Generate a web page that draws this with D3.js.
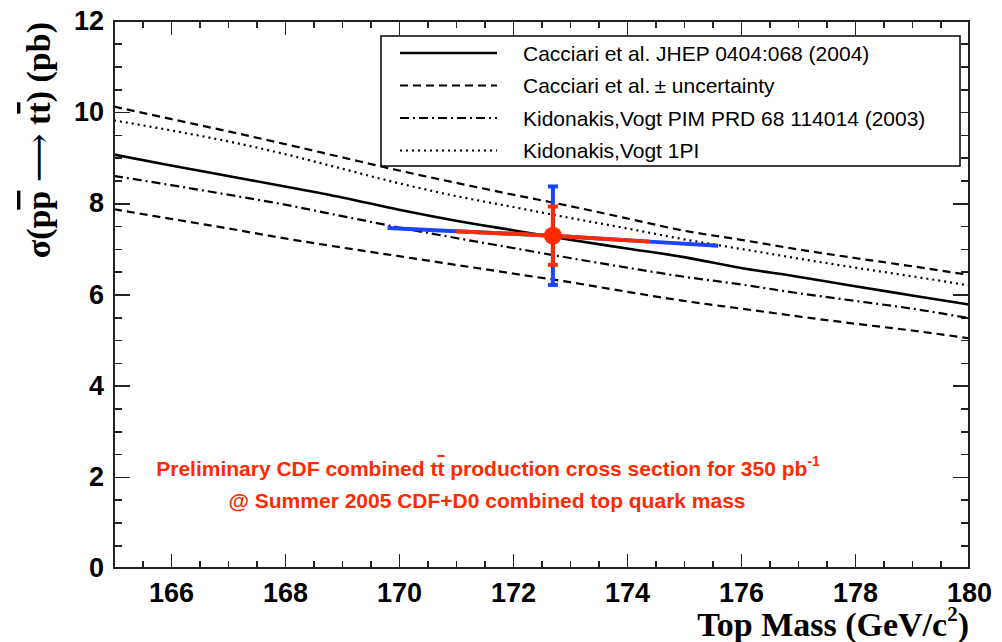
<!DOCTYPE html>
<html lang="en">
<head>
<meta charset="UTF-8">
<title>ttbar cross section vs top mass</title>
<script src="https://d3js.org/d3.v7.min.js"></script>
<style>
    body { margin: 0; background: #ffffff; }

    .axis path { display: none; }
    .axis line { stroke: #222; stroke-width: 1.6; shape-rendering: crispEdges; }
    .axis text {
        font-family: "Liberation Sans", Arial, sans-serif;
        font-weight: bold;
        font-size: 27px;
        fill: #000;
    }

    .legend text {
        font-family: "Liberation Sans", Arial, sans-serif;
        font-size: 21px;
        fill: #000;
    }

    .title {
        font-family: "Liberation Serif", "Times New Roman", serif;
        font-weight: bold;
        font-size: 34px;
        fill: #000;
    }

    .note {
        font-family: "Liberation Sans", Arial, sans-serif;
        font-weight: bold;
        font-size: 21px;
        fill: #ff2a00;
    }
</style>
</head>
<body>
<div id="chart"></div>

<script>

var mass        = [165, 166, 167, 168, 169, 170, 171, 172, 173, 174, 175, 176, 177, 178, 179, 180];
var cacciari    = [9.07, 8.83, 8.60, 8.37, 8.13, 7.86, 7.62, 7.41, 7.20, 7.01, 6.82, 6.58, 6.39, 6.18, 5.98, 5.78];
var cacciariUp  = [10.12, 9.85, 9.58, 9.30, 9.01, 8.72, 8.45, 8.19, 7.94, 7.67, 7.40, 7.20, 6.99, 6.80, 6.62, 6.43];
var cacciariLow = [7.87, 7.66, 7.45, 7.23, 7.03, 6.84, 6.65, 6.46, 6.27, 6.06, 5.86, 5.69, 5.52, 5.36, 5.21, 5.04];
var kidonakisPIM = [8.60, 8.40, 8.19, 7.97, 7.72, 7.47, 7.24, 7.02, 6.80, 6.59, 6.39, 6.22, 6.03, 5.86, 5.69, 5.48];
var kidonakis1PI = [9.82, 9.60, 9.36, 9.08, 8.76, 8.44, 8.16, 7.92, 7.68, 7.45, 7.21, 7.00, 6.79, 6.59, 6.40, 6.20];

// CDF combined measurement
var measMass = 172.7;
var measXsec = 7.29;
var xsecStat = 0.64;   // red (inner) vertical error
var xsecTot = 1.08;    // blue (outer) vertical error
// measured cross section follows the assumed mass along the horizontal bar
var bandMass = [169.8, 171.0, 172.7, 174.4, 175.6];
var bandXsec = [7.46, 7.39, 7.29, 7.16, 7.07];

var xTicks = [166, 168, 170, 172, 174, 176, 178, 180];
var yTicks = [0, 2, 4, 6, 8, 10, 12];

var legendLabels = [
    "Cacciari et al. JHEP 0404:068 (2004)",
    "Cacciari et al.\u2009\u00b1 uncertainty",
    "Kidonakis,Vogt PIM PRD 68 114014 (2003)",
    "Kidonakis,Vogt 1PI"
];

var w = 1002;
var h = 642;
var plotL = 114, plotR = 969, plotT = 21, plotB = 568;

var red = "#ff2a00";
var blue = "#1a44ff";

var svg = d3.select("#chart")
            .append("svg")
            .attr("width", w)
            .attr("height", h)
            .style("background-color", "#ffffff");

var xScale = d3.scaleLinear().domain([165, 180]).range([plotL, plotR]);
var yScale = d3.scaleLinear().domain([0, 12]).range([plotB, plotT]);

svg.append("clipPath").attr("id", "plotclip")
    .append("rect")
    .attr("x", plotL).attr("y", plotT)
    .attr("width", plotR - plotL).attr("height", plotB - plotT);

/*
* Axes: ticks on all four sides, pointing inward
* */
var minorX = d3.range(165, 180.01, 0.5).filter(function(v){ return v % 2 !== 0; });
var minorY = d3.range(0, 12.01, 0.5).filter(function(v){ return v % 2 !== 0; });
var noLabel = function(){ return ""; };

svg.append("g").attr("class", "axis")
    .attr("transform", "translate(0," + plotB + ")")
    .call(d3.axisBottom(xScale).tickValues(xTicks).tickSize(-14).tickPadding(15).tickFormat(d3.format("d")));
svg.append("g").attr("class", "axis")
    .attr("transform", "translate(0," + plotB + ")")
    .call(d3.axisBottom(xScale).tickValues(minorX).tickSize(-7).tickFormat(noLabel));
svg.append("g").attr("class", "axis")
    .attr("transform", "translate(0," + plotT + ")")
    .call(d3.axisTop(xScale).tickValues(xTicks).tickSize(-14).tickFormat(noLabel));
svg.append("g").attr("class", "axis")
    .attr("transform", "translate(0," + plotT + ")")
    .call(d3.axisTop(xScale).tickValues(minorX).tickSize(-7).tickFormat(noLabel));

svg.append("g").attr("class", "axis")
    .attr("transform", "translate(" + plotL + ",0)")
    .call(d3.axisLeft(yScale).tickValues(yTicks).tickSize(-16).tickPadding(10).tickFormat(d3.format("d")));
svg.append("g").attr("class", "axis")
    .attr("transform", "translate(" + plotL + ",0)")
    .call(d3.axisLeft(yScale).tickValues(minorY).tickSize(-8).tickFormat(noLabel));
svg.append("g").attr("class", "axis")
    .attr("transform", "translate(" + plotR + ",0)")
    .call(d3.axisRight(yScale).tickValues(yTicks).tickSize(-16).tickFormat(noLabel));
svg.append("g").attr("class", "axis")
    .attr("transform", "translate(" + plotR + ",0)")
    .call(d3.axisRight(yScale).tickValues(minorY).tickSize(-8).tickFormat(noLabel));

/*
* Theory curves
* */
var curves = [
    { values: cacciari,     dash: null,         width: 2.6 },
    { values: cacciariUp,   dash: "8,5",        width: 2.2 },
    { values: kidonakisPIM, dash: "9,4,2,4",    width: 2.2 },
    { values: kidonakis1PI, dash: "2,4",        width: 2.2 },
    { values: cacciariLow,  dash: "8,5",        width: 2.2 }
];
var curveLine = d3.line()
        .x(function(d){ return xScale(d[0]); })
        .y(function(d){ return yScale(d[1]); })
        .curve(d3.curveMonotoneX);

var curveLayer = svg.append("g").attr("clip-path", "url(#plotclip)");
curves.forEach(function(c){
    curveLayer.append("path")
        .attr("d", curveLine(d3.zip(mass, c.values)))
        .attr("fill", "none")
        .attr("stroke", "#000")
        .attr("stroke-width", c.width)
        .attr("stroke-dasharray", c.dash);
});

/*
* Measurement with error bars
* */
var band = d3.zip(bandMass, bandXsec);
var bandLine = d3.line()
        .x(function(d){ return xScale(d[0]); })
        .y(function(d){ return yScale(d[1]); });

var meas = svg.append("g");

meas.append("path")
    .attr("d", bandLine(band))
    .attr("fill", "none").attr("stroke", blue).attr("stroke-width", 4);
meas.append("path")
    .attr("d", bandLine(band.slice(1, 4)))
    .attr("fill", "none").attr("stroke", red).attr("stroke-width", 4);

function vErr(err, color) {
    var cx = xScale(measMass);
    var y1 = yScale(measXsec + err), y2 = yScale(measXsec - err);
    meas.append("line")
        .attr("x1", cx).attr("x2", cx).attr("y1", y1).attr("y2", y2)
        .attr("stroke", color).attr("stroke-width", 4);
    [y1, y2].forEach(function(yy){
        meas.append("line")
            .attr("x1", cx - 5).attr("x2", cx + 5).attr("y1", yy).attr("y2", yy)
            .attr("stroke", color).attr("stroke-width", 4);
    });
}
vErr(xsecTot, blue);
vErr(xsecStat, red);

meas.append("circle")
    .attr("cx", xScale(measMass))
    .attr("cy", yScale(measXsec))
    .attr("r", 9)
    .attr("fill", red);

/*
* Legend
* */
var legend = svg.append("g").attr("class", "legend");
legend.append("rect")
    .attr("x", 381).attr("y", 36)
    .attr("width", 579).attr("height", 130)
    .attr("fill", "#fff")
    .attr("stroke", "#000")
    .attr("stroke-width", 1.5);

var legendStyles = [curves[0], curves[1], curves[2], curves[3]];
legendLabels.forEach(function(label, i){
    var ly = 53 + i * 32.5;
    legend.append("line")
        .attr("x1", 400).attr("x2", 497)
        .attr("y1", ly).attr("y2", ly)
        .attr("stroke", "#000")
        .attr("stroke-width", legendStyles[i].width)
        .attr("stroke-dasharray", legendStyles[i].dash);
    legend.append("text")
        .attr("x", 523).attr("y", ly + 7.5)
        .text(label);
});

/*
* Axis titles
* */
var xTitle = svg.append("text")
    .attr("class", "title")
    .attr("x", plotR)
    .attr("y", 636)
    .attr("text-anchor", "end");
xTitle.append("tspan").text("Top Mass (GeV/c");
xTitle.append("tspan").attr("dy", -15).style("font-size", "21px").text("2");
xTitle.append("tspan").attr("dy", 15).text(")");

var yTitle = svg.append("text")
    .attr("class", "title")
    .attr("transform", "translate(50,22) rotate(-90)")
    .attr("text-anchor", "end");
yTitle.append("tspan").text("\u03c3(p");
yTitle.append("tspan").style("text-decoration", "overline").text("p");
yTitle.append("tspan").text(" ");
yTitle.append("tspan")
    .style("font-family", "'DejaVu Serif', serif")
    .style("font-weight", "normal")
    .style("font-size", "34px")
    .text("\u27f6");
yTitle.append("tspan").text(" t");
yTitle.append("tspan").style("text-decoration", "overline").text("t");
yTitle.append("tspan").text(") (pb)");

/*
* Red annotation
* */
var note1 = svg.append("text")
    .attr("class", "note")
    .attr("x", 488).attr("y", 476)
    .attr("text-anchor", "middle");
note1.append("tspan").text("Preliminary CDF combined t");
note1.append("tspan").style("text-decoration", "overline").text("t");
note1.append("tspan").text(" production cross section for 350 pb");
note1.append("tspan").attr("dy", -10).style("font-size", "14px").text("-1");

svg.append("text")
    .attr("class", "note")
    .attr("x", 487).attr("y", 508)
    .attr("text-anchor", "middle")
    .text("@ Summer 2005 CDF+D0 combined top quark mass");

/*
* Frame
* */
svg.append("rect")
    .attr("x", plotL).attr("y", plotT)
    .attr("width", plotR - plotL).attr("height", plotB - plotT)
    .attr("fill", "none")
    .attr("stroke", "#222")
    .attr("stroke-width", 2);

</script>
</body>
</html>
